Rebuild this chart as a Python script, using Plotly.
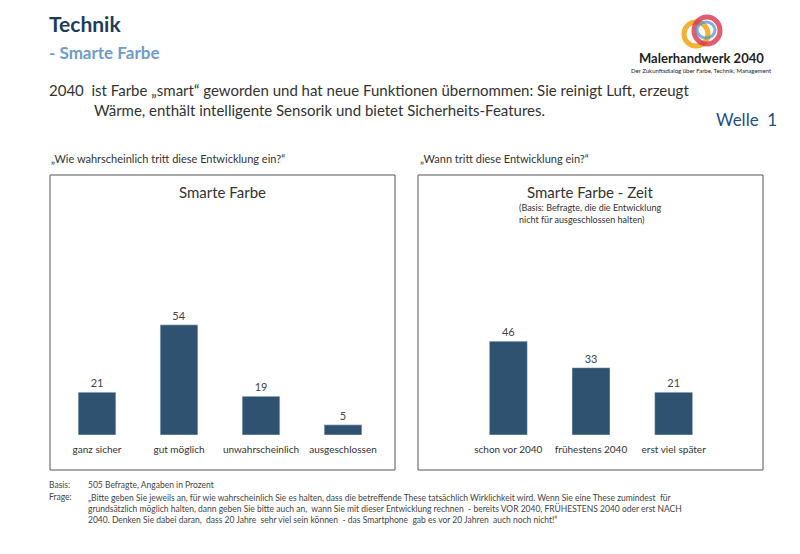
import plotly.graph_objects as go

cats1 = ["ganz sicher", "gut möglich", "unwahrscheinlich", "ausgeschlossen"]
vals1 = [21, 54, 19, 5]
cats2 = ["schon vor 2040", "frühestens 2040", "erst viel später"]
vals2 = [46, 33, 21]

W, H = 800, 554
OFF = 8
def fx(p): return (p - OFF) / W
def fy(p): return 1 - (p - OFF) / H

BAR = "#2e526f"
F = "Lato, Open Sans, sans-serif"
fig = go.Figure()
fig.add_trace(go.Bar(x=cats1, y=vals1, marker_color=BAR, width=0.46, text=vals1,
                     textposition="outside", textfont=dict(size=11, color="#444"),
                     xaxis="x", yaxis="y", cliponaxis=False))
fig.add_trace(go.Bar(x=cats2, y=vals2, marker_color=BAR, width=0.46, text=vals2,
                     textposition="outside", textfont=dict(size=11, color="#444"),
                     xaxis="x2", yaxis="y2", cliponaxis=False))

ydom = [fy(435), fy(231)]
ax = dict(showgrid=False, zeroline=False, showline=False, ticks="", ticklabelstandoff=7,
          tickfont=dict(size=10, color="#333", family=F))
fig.update_layout(
    width=W, height=H, margin=dict(l=0, r=0, t=0, b=0), showlegend=False,
    paper_bgcolor="white", plot_bgcolor="white", font=dict(family=F),
    xaxis=dict(domain=[fx(56), fx(384)], **ax),
    xaxis2=dict(domain=[fx(467), fx(715)], **ax),
    yaxis=dict(domain=ydom, range=[0, 100], visible=False),
    yaxis2=dict(domain=ydom, range=[0, 100], visible=False, anchor="x2"),
)

shapes = [
    dict(type="rect", xref="paper", yref="paper", x0=fx(50), x1=fx(395), y0=fy(470), y1=fy(175), line=dict(color="#555", width=1)),
    dict(type="rect", xref="paper", yref="paper", x0=fx(418), x1=fx(763), y0=fy(470), y1=fy(175), line=dict(color="#555", width=1)),
    # logo
    dict(type="circle", xref="paper", yref="paper", x0=fx(684), x1=fx(708), y0=fy(46), y1=fy(22), line=dict(color="#f2b233", width=5)),
    dict(type="circle", xref="paper", yref="paper", x0=fx(694), x1=fx(720), y0=fy(44), y1=fy(17), line=dict(color="#d9344a", width=5), opacity=0.8),
    dict(type="circle", xref="paper", yref="paper", x0=fx(697), x1=fx(715), y0=fy(38), y1=fy(22), line=dict(color="#4a90d0", width=3), opacity=0.7),
]
fig.update_layout(shapes=shapes)

def ann(x, y, t, size, color="#333", anchor="left", bold=False, yanchor="middle"):
    if bold: t = "<b>" + t + "</b>"
    fig.add_annotation(x=fx(x), y=fy(y), xref="paper", yref="paper", text=t, showarrow=False,
                       xanchor=anchor, yanchor=yanchor, align="left", font=dict(size=size, color=color, family=F))

ann(47, 24, "Technik", 21, "#1f3d5a", bold=True)
ann(47, 52, "- Smarte Farbe", 17, "#6f9ccc", bold=True)
ann(701, 58, "Malerhandwerk 2040", 13, "#222", anchor="center", bold=True)
ann(701, 70, "Der Zukunftsdialog über Farbe, Technik, Management", 6, "#222", anchor="center")
ann(47, 90, "2040  ist Farbe „smart“ geworden und hat neue Funktionen übernommen: Sie reinigt Luft, erzeugt", 15, "#333")
ann(92, 110, "Wärme, enthält intelligente Sensorik und bietet Sicherheits-Features.", 15, "#333")
ann(779, 120, "Welle  1", 17, "#1f4e8c", anchor="right")
ann(49, 158, "„Wie wahrscheinlich tritt diese Entwicklung ein?“", 11, "#333")
ann(418, 158, "„Wann tritt diese Entwicklung ein?“", 11, "#333")
ann(222, 192, "Smarte Farbe", 15, "#333", anchor="center")
ann(590, 192, "Smarte Farbe - Zeit", 15, "#333", anchor="center")
ann(590, 214, "(Basis: Befragte, die die Entwicklung<br>nicht für ausgeschlossen halten)", 9, "#333", anchor="center")
ann(47, 485, "Basis:", 8.5, "#444")
ann(86, 485, "505 Befragte, Angaben in Prozent", 8.5, "#444")
ann(47, 497, "Frage:", 8.5, "#444")
ann(86, 491, "„Bitte geben Sie jeweils an, für wie wahrscheinlich Sie es halten, dass die betreffende These tatsächlich Wirklichkeit wird. Wenn Sie eine These zumindest  für<br>grundsätzlich möglich halten, dann geben Sie bitte auch an,  wann Sie mit dieser Entwicklung rechnen  - bereits VOR 2040, FRÜHESTENS 2040 oder erst NACH<br>2040. Denken Sie dabei daran,  dass 20 Jahre  sehr viel sein können  - das Smartphone  gab es vor 20 Jahren  auch noch nicht!“", 8.5, "#444", yanchor="top")

fig.write_html("out.html")
